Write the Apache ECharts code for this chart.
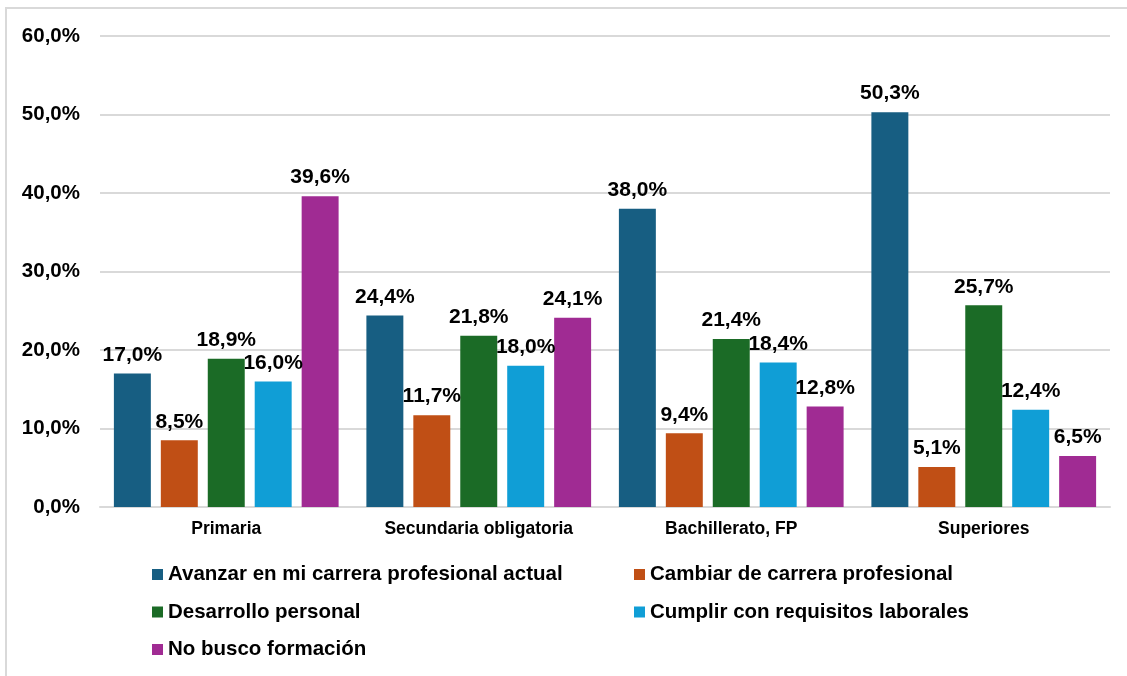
<!DOCTYPE html>
<html>
<head>
<meta charset="utf-8">
<script src="https://cdn.jsdelivr.net/npm/echarts@6/dist/echarts.min.js"></script>
<style>
html, body { margin: 0; padding: 0; background: #fff; overflow: hidden; }
#frame { position: absolute; left: 5px; top: 7px; width: 1130px; height: 680px; border: 2px solid #d9d9d9; box-sizing: border-box; }
#main { position: absolute; left: 0; top: 0; width: 1127px; height: 676px; }
</style>
</head>
<body>
<div id="frame"></div>
<div id="main"></div>
<script>
var categories = ['Primaria', 'Secundaria obligatoria', 'Bachillerato, FP', 'Superiores'];
var seriesNames = [
    'Avanzar en mi carrera profesional actual',
    'Cambiar de carrera profesional',
    'Desarrollo personal',
    'Cumplir con requisitos laborales',
    'No busco formación'
];
var avanzar = [17.0, 24.4, 38.0, 50.3];
var cambiar = [8.5, 11.7, 9.4, 5.1];
var desarrollo = [18.9, 21.8, 21.4, 25.7];
var cumplir = [16.0, 18.0, 18.4, 12.4];
var noBusco = [39.6, 24.1, 12.8, 6.5];
var colors = ['#175e82', '#c04f15', '#1b6b26', '#109ed6', '#a02b93'];

function pct(v) {
    return v.toFixed(1).replace('.', ',') + '%';
}

var myChart = echarts.init(document.getElementById('main'));

var allValues = [avanzar, cambiar, desarrollo, cumplir, noBusco];
var series = [];
for (var i = 0; i < allValues.length; i++) {
    series.push({
        name: seriesNames[i],
        type: 'bar',
        data: allValues[i],
        itemStyle: { color: colors[i] },
        barGap: '27%',
        barCategoryGap: '11%',
        label: {
            show: true,
            position: 'top',
            distance: 8,
            fontFamily: 'Liberation Sans, Arial',
            fontWeight: 'bold',
            fontSize: 21,
            color: '#000',
            formatter: function (p) { return pct(p.value); }
        }
    });
}

var legendText = {
    fontFamily: 'Liberation Sans, Arial',
    fontWeight: 'bold',
    fontSize: 20.5,
    color: '#000'
};

option = {
    animation: false,
    color: colors,
    grid: { left: 100, right: 17, top: 36, bottom: 169 },
    legend: [
        {
            orient: 'vertical',
            left: 147, top: 559,
            itemWidth: 11, itemHeight: 11, itemGap: 16.5,
            icon: 'rect',
            data: [seriesNames[0], seriesNames[2], seriesNames[4]],
            textStyle: legendText
        },
        {
            orient: 'vertical',
            left: 629, top: 559,
            itemWidth: 11, itemHeight: 11, itemGap: 16.5,
            icon: 'rect',
            data: [seriesNames[1], seriesNames[3]],
            textStyle: legendText
        }
    ],
    xAxis: {
        type: 'category',
        data: categories,
        axisTick: { show: false },
        axisLine: { lineStyle: { color: '#d9d9d9', width: 2 } },
        axisLabel: {
            margin: 13,
            fontFamily: 'Liberation Sans, Arial',
            fontWeight: 'bold',
            fontSize: 17.5,
            color: '#000'
        }
    },
    yAxis: {
        type: 'value',
        min: 0,
        max: 60,
        interval: 10,
        axisLine: { show: false },
        axisTick: { show: false },
        splitLine: { lineStyle: { color: '#d9d9d9', width: 2 } },
        axisLabel: {
            margin: 20,
            fontFamily: 'Liberation Sans, Arial',
            fontWeight: 'bold',
            fontSize: 20.5,
            color: '#000',
            formatter: function (v) { return pct(v); }
        }
    },
    series: series
};

myChart.setOption(option);
</script>
</body>
</html>
